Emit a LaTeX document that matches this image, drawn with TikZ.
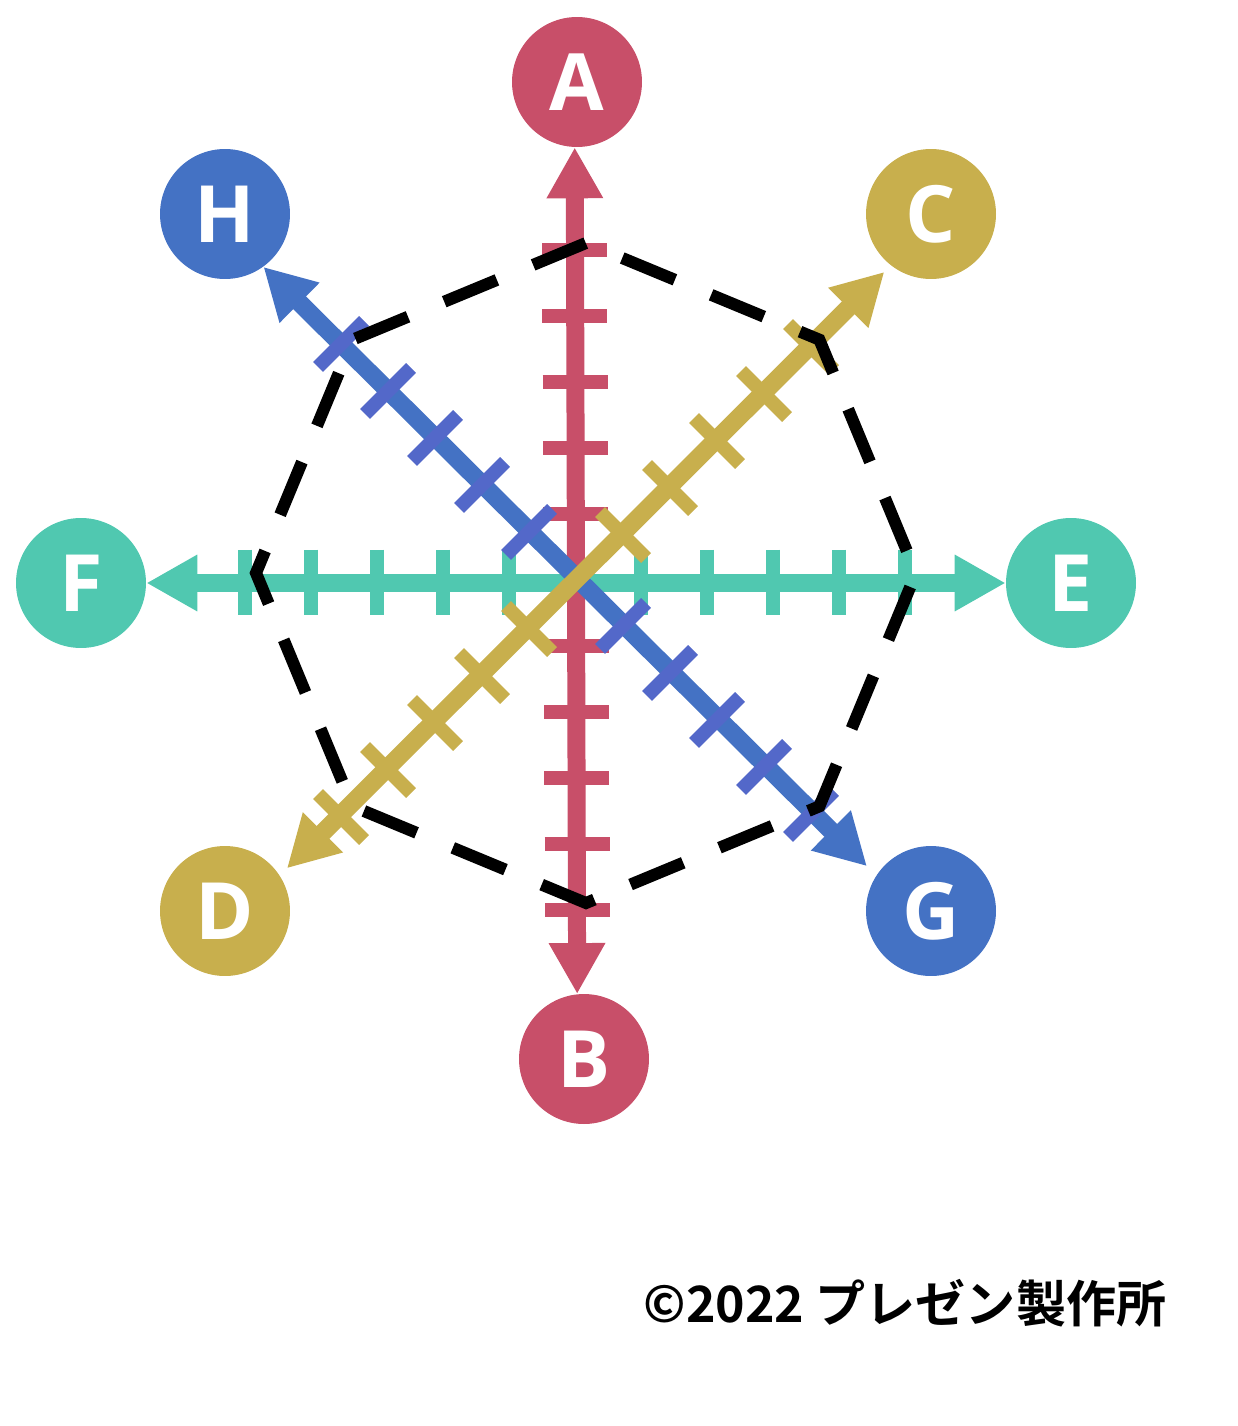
\documentclass[tikz,border=0pt]{standalone}
\usepackage{fontspec}
\newfontfamily\lettfont{Open Sans}
\newfontfamily\cjkfont{Noto Sans CJK JP}[BoldFont={Noto Sans CJK JP Bold}]
\usetikzlibrary{arrows.meta,calc}
\definecolor{cred}{HTML}{C84F69}
\definecolor{cgold}{HTML}{C8AF4D}
\definecolor{cteal}{HTML}{50C8B0}
\definecolor{cblue}{HTML}{4472C4}
\definecolor{cbluetick}{HTML}{5368C9}
\tikzset{
  ball/.style={circle,minimum size=2.6cm,inner sep=0pt,text=white,
    font=\lettfont\bfseries\fontsize{45}{45}\selectfont},
  axis/.style={line width=0.36cm,
    {Triangle[length=1.02cm,width=1.06cm]}-{Triangle[length=1.02cm,width=1.06cm]}},
  notch/.style={line width=0.28cm},
  ring/.style={line width=0.24cm,dash pattern=on 1.14cm off 0.7845cm,
    dash phase=1.14cm,line join=miter},
}
\begin{document}
\begin{tikzpicture}[x=0.02cm,y=-0.02cm]
\useasboundingbox (0,0) rectangle (1237,1426);
% circles
\node[ball,fill=cred] (A) at (577,82) {A};
\node[ball,fill=cred] (B) at (584,1059) {B};
\node[ball,fill=cgold] (C) at (931,214) {C};
\node[ball,fill=cgold] (D) at (225,911) {D};
\node[ball,fill=cteal] (E) at (1071,583) {E};
\node[ball,fill=cteal] (F) at (81,583) {F};
\node[ball,fill=cblue] (G) at (931,911) {G};
\node[ball,fill=cblue] (H) at (225,214) {H};
%
\draw[axis,cteal] (F.0) -- (E.180);
\foreach \k in {-5,...,-1,1,2,...,5}
  \draw[notch,cteal] (575+66*\k,549.5) -- ++(0,65);
%
\draw[axis,cred] (A.-92) -- (B.96);
\foreach \k in {-5,...,-1,1,2,...,5}
  \draw[notch,cred] (543.5+0.3*\k,580+66*\k) -- ++(65,0);
%
\draw[axis,cblue,shorten >=0.26cm] (H.-54) -- (G.147);
\foreach \k in {-5,...,-1,1,2,...,5}
  \draw[notch,cbluetick] (553+47*\k,602+47*\k) -- ++(46,-46);
%
\draw[axis,cgold,shorten <=0.2cm,shorten >=0.18cm] (D.33) -- (C.232);
\foreach \k in {-5,...,-1,1,2,...,5}
  \draw[notch,cgold] (553+47*\k,559-47*\k) -- ++(46,46);
% dashed octagon
\coordinate (O) at (586,573);
\draw[ring] ($(O)+(-90:330)$) \foreach \a in {-45,0,...,225}{ -- ($(O)+(\a:330)$)} -- cycle;
%
\node[font=\cjkfont\bfseries\fontsize{28.5}{30}\selectfont,anchor=base] (copy) at (905,1322) {©2022 プレゼン製作所};
\end{tikzpicture}
\end{document}
